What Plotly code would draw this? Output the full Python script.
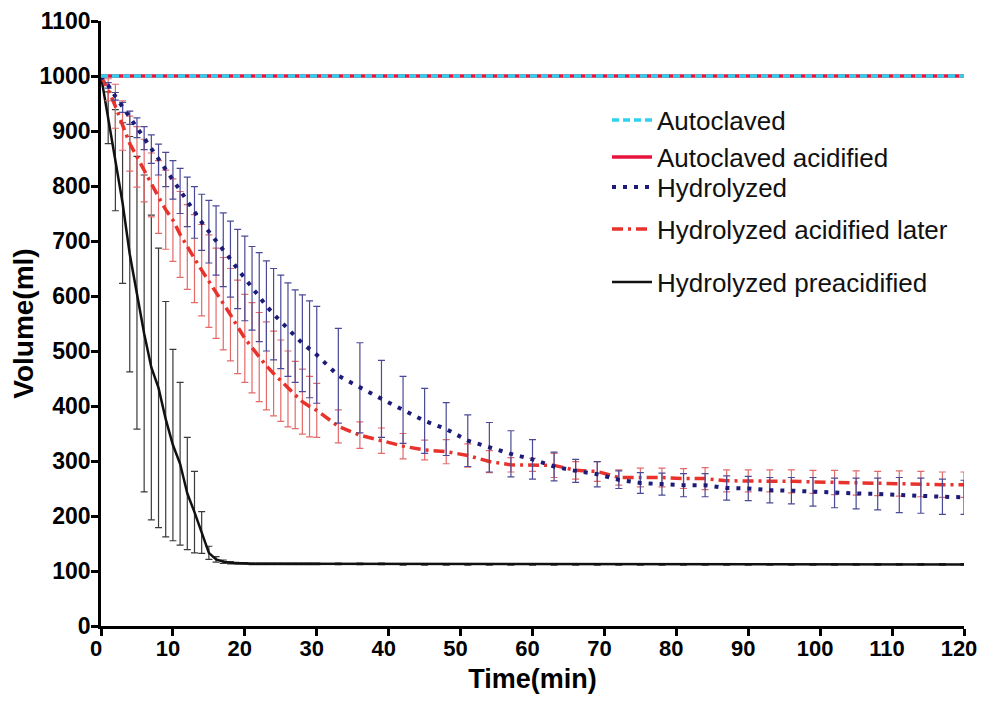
import plotly.graph_objects as go

TIME = [0, 1, 2, 3, 4, 5, 6, 7, 8, 9, 10, 11, 12, 13, 14, 15, 16, 17, 18, 19, 20,
        21, 22, 23, 24, 25, 26, 27, 28, 29, 30,
        33, 36, 39, 42, 45, 48, 51, 54, 57, 60, 63, 66, 69, 72, 75, 78, 81, 84, 87, 90,
        93, 96, 99, 102, 105, 108, 111, 114, 117, 120]

AUTOCLAVED_TIME = [0, 120]
AUTOCLAVED = [1000, 1000]
AUTOCLAVED_ACIDIFIED = [1000, 1000]

HYDROLYZED = [1000, 983, 963, 943, 924, 906, 887, 867, 848, 830, 811, 791, 771, 752, 734, 717,
              701, 684, 667, 649, 632, 614, 598, 582, 567, 553, 539, 527, 514, 503, 493,
              455, 433, 413, 393, 373, 358, 337, 325, 313, 303, 290, 282, 276, 266, 260,
              258, 256, 256, 251, 250, 247, 246, 244, 242, 241, 240, 238, 237, 235, 234]
HYDROLYZED_SD = [0, 5, 7, 9, 12, 18, 21, 26, 28, 31, 35, 41, 45, 47, 51, 57,
                 63, 67, 69, 72, 77, 76, 81, 82, 83, 85, 85, 84, 88, 88, 88,
                 86, 82, 70, 61, 59, 48, 47, 45, 42, 36, 26, 21, 23, 16, 19,
                 20, 21, 21, 22, 22, 23, 24, 26, 27, 28, 29, 32, 32, 32, 31]

ACIDIFIED_LATER = [1000, 975, 945, 910, 877, 853, 828, 802, 780, 757, 738, 712, 689, 668, 647, 627,
                   605, 586, 566, 544, 523, 506, 489, 473, 459, 446, 431, 420, 408, 399, 392,
                   363, 347, 337, 327, 320, 317, 310, 299, 293, 293, 292, 283, 281, 270, 270,
                   270, 268, 268, 264, 264, 264, 263, 262, 261, 260, 259, 259, 258, 257, 257]
ACIDIFIED_LATER_SD = [0, 20, 40, 45, 50, 55, 57, 58, 66, 72, 75, 78, 77, 80, 83, 84,
                      82, 84, 84, 85, 80, 82, 81, 80, 77, 74, 69, 61, 59, 55, 49,
                      30, 24, 23, 23, 18, 22, 21, 20, 13, 12, 22, 16, 18, 14, 17,
                      17, 18, 20, 20, 20, 20, 21, 21, 22, 22, 22, 23, 23, 23, 23]

PREACIDIFIED = [1000, 924, 847, 769, 676, 606, 532, 470, 433, 376, 329, 295, 241, 207, 170, 133,
                121, 117, 115, 114, 114, 113, 113, 113, 113, 113, 113, 113, 113, 113, 113,
                113, 113, 113, 112, 112, 112, 112, 112, 112, 112, 112, 112, 112, 112, 112,
                112, 112, 112, 112, 112, 112, 112, 112, 112, 112, 112, 112, 112, 112, 112]
PREACIDIFIED_SD = [0, 47, 92, 146, 214, 248, 288, 277, 254, 214, 174, 148, 102, 74, 38, 12,
                   5, 3, 2, 1.5, 1.5, 1.5, 1.5, 1.5, 1.5, 1.5, 1.5, 1.5, 1.5, 1.5, 1.5,
                   1.5, 1.5, 1.5, 1.5, 1.5, 1.5, 1.5, 1.5, 1.5, 1.5, 1.5, 1.5, 1.5, 1.5, 1.5,
                   1.5, 1.5, 1.5, 1.5, 1.5, 1.5, 1.5, 1.5, 1.5, 1.5, 1.5, 1.5, 1.5, 1.5, 1.5]

X_TICKS = [0, 10, 20, 30, 40, 50, 60, 70, 80, 90, 100, 110, 120]
Y_TICKS = [0, 100, 200, 300, 400, 500, 600, 700, 800, 900, 1000, 1100]

FONT = "Liberation Sans, Arial, sans-serif"

# The page body has an 8px margin; size the figure so the page does not overflow.
FIG_W, FIG_H = 969, 686
M_L, M_T = 93, 13
PLOT_W, PLOT_H = 863, 605
M_R = FIG_W - M_L - PLOT_W
M_B = FIG_H - M_T - PLOT_H

fig = go.Figure()

fig.add_trace(go.Scatter(
    x=TIME, y=PREACIDIFIED, mode="lines", name="Hydrolyzed preacidified",
    line=dict(color="#111111", width=2.5),
    error_y=dict(type="data", array=PREACIDIFIED_SD, color="#3a3a3a", thickness=1.2, width=3.5),
    legend="legend5", cliponaxis=False))

fig.add_trace(go.Scatter(
    x=TIME, y=ACIDIFIED_LATER, mode="lines", name="Hydrolyzed acidified later",
    line=dict(color="#e8332d", width=3.5, dash="11px,5px,3px,5px"),
    error_y=dict(type="data", array=ACIDIFIED_LATER_SD, color="#e46a6a", thickness=1.2, width=3.5),
    legend="legend4", cliponaxis=False))

fig.add_trace(go.Scatter(
    x=TIME, y=HYDROLYZED, mode="lines", name="Hydrolyzed",
    line=dict(color="#1c1c78", width=4, dash="4px,7px"),
    error_y=dict(type="data", array=HYDROLYZED_SD, color="#4a4a96", thickness=1.2, width=3.5),
    legend="legend3", cliponaxis=False))

fig.add_trace(go.Scatter(
    x=AUTOCLAVED_TIME, y=AUTOCLAVED_ACIDIFIED, mode="lines", name="Autoclaved acidified",
    line=dict(color="#e8133c", width=3.5),
    legend="legend2", cliponaxis=False))

fig.add_trace(go.Scatter(
    x=AUTOCLAVED_TIME, y=AUTOCLAVED, mode="lines", name="Autoclaved",
    line=dict(color="#2fd0f0", width=3.5, dash="7px,4px"),
    legend="legend", cliponaxis=False))

def leg(ypix):
    # ypix: target centre in page pixels
    return dict(x=(607 - 101) / PLOT_W, y=1 - (ypix - 21) / PLOT_H, xanchor="left", yanchor="middle",
                bgcolor="rgba(0,0,0,0)", itemwidth=40,
                font=dict(family=FONT, size=26, color="#111111"))

fig.update_layout(
    width=FIG_W, height=FIG_H,
    margin=dict(l=M_L, r=M_R, t=M_T, b=M_B, autoexpand=False),
    paper_bgcolor="white", plot_bgcolor="white",
    showlegend=True,
    legend=leg(120),
    legend2=leg(157),
    legend3=leg(187),
    legend4=leg(229),
    legend5=leg(282),
    xaxis=dict(range=[0, 120], tickvals=X_TICKS, ticktext=[str(v) for v in X_TICKS],
               automargin=False, ticklabelstandoff=-6, ticklabelshift=-5,
               ticklabeloverflow="allow",
               showgrid=False, zeroline=False, showline=True, linecolor="black", linewidth=2.5,
               ticks="outside", ticklen=7, tickwidth=2.5, tickcolor="black",
               tickfont=dict(family=FONT, size=22, color="black", weight="bold"),
               title=dict(text="Time(min)", standoff=13,
                          font=dict(family=FONT, size=27, color="black", weight="bold"))),
    yaxis=dict(range=[0, 1100], tickvals=Y_TICKS, ticktext=[str(v) for v in Y_TICKS],
               automargin=False, ticklabelstandoff=-4,
               showgrid=False, zeroline=False, showline=True, linecolor="black", linewidth=2.5,
               ticks="outside", ticklen=7, tickwidth=2.5, tickcolor="black",
               tickfont=dict(family=FONT, size=23, color="black", weight="bold"),
               title=dict(text="Volume(ml)", standoff=1,
                          font=dict(family=FONT, size=28, color="black", weight="bold"))),
)

fig.write_html("out.html")
